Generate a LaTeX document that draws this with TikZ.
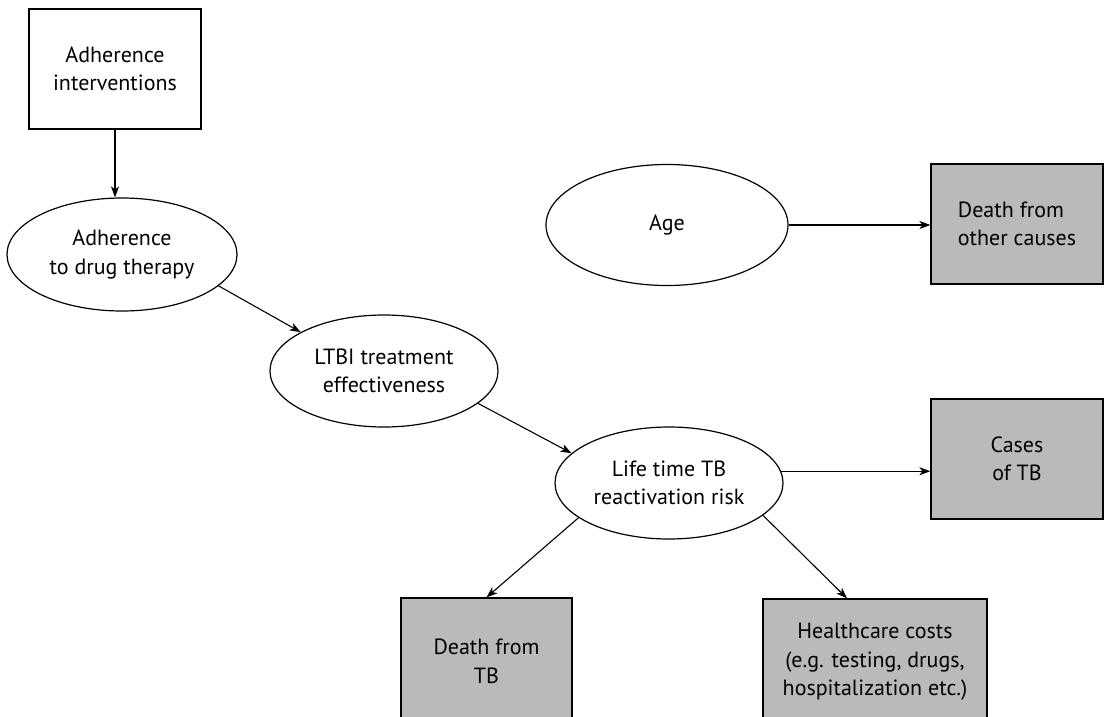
\documentclass[tikz,border=0pt]{standalone}
\usepackage{fontspec}
\setmainfont{PT Sans}
\usetikzlibrary{arrows.meta,shapes.geometric}
\definecolor{boxgray}{RGB}{186,186,186}
\tikzset{
  arr/.style={-{Stealth[length=11pt,width=8pt,inset=3pt]}, line width=1.1pt},
  whitebox/.style={draw, line width=1.2pt, fill=white, inner sep=0pt, align=center, font=\fontsize{22}{28.5}\selectfont},
  graybox/.style={whitebox, fill=boxgray},
  oval/.style={ellipse, draw, line width=1.2pt, fill=white, inner sep=0pt, align=center, font=\fontsize{22}{28.5}\selectfont}
}
\begin{document}
\begin{tikzpicture}[x=1pt,y=-1pt]
\clip (0,0) rectangle (1105,717);
\fill[white] (0,0) rectangle (1105,717);
\node[whitebox, minimum width=172pt, minimum height=120pt] (box1) at (115,69) {Adherence\\interventions};
\node[oval, minimum width=230pt, minimum height=113pt] (e1) at (122,254.5) {Adherence\\to drug therapy};
\node[oval, minimum width=228pt, minimum height=112pt] (ltbi) at (384,371) {LTBI treatment\\effectiveness};
\node[oval, minimum width=228pt, minimum height=112pt] (life) at (669,483) {Life time TB\\reactivation risk};
\node[oval, minimum width=242pt, minimum height=121pt] (age) at (667,225) {Age};
\node[graybox, minimum width=172pt, minimum height=120pt, align=left] (other) at (1017,224) {Death from\\other causes};
\node[graybox, minimum width=172pt, minimum height=120pt] (cases) at (1017,459) {Cases\\of TB};
\node[graybox, minimum width=171pt, minimum height=127pt] (dtb) at (486.5,661.5) {Death from\\TB\hspace*{0pt}};
\node[graybox, minimum width=224pt, minimum height=126pt] (hc) at (875,662) {Healthcare costs\\(e.g. testing, drugs,\\hospitalization etc.)};
\draw[arr] (box1.south) -- (box1.south |- e1.north);
\draw[arr] (e1.-18) -- (ltbi.155);
\draw[arr] (ltbi.-19) -- (life.163);
\draw[arr] (life.6) -- (life.6 -| cases.west);
\draw[arr] (age.east) -- (age.east -| other.west);
\draw[arr] (life.201) -- (dtb.north);
\draw[arr] (life.-19) -- ([xshift=-28pt]hc.north);
\end{tikzpicture}
\end{document}
